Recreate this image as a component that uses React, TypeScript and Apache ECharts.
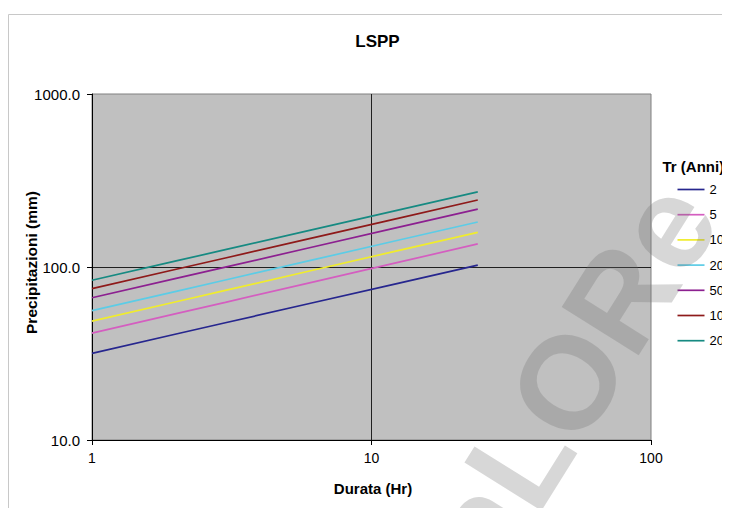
import React, { useEffect, useRef } from "react";
import * as echarts from "echarts";

const durations = [1, 2, 3, 6, 12, 24];
const returnPeriods = ["2", "5", "10", "20", "50", "100", "200"];
const h2 = [31.7, 41.0, 47.6, 61.5, 79.4, 102.6];
const h5 = [41.5, 53.8, 62.5, 81.0, 104.9, 135.9];
const h10 = [48.7, 63.0, 73.3, 94.8, 122.7, 158.7];
const h20 = [55.9, 72.3, 84.1, 108.8, 140.8, 182.0];
const h50 = [66.4, 85.9, 99.8, 129.2, 167.1, 216.0];
const h100 = [75.0, 97.0, 112.7, 145.8, 188.6, 243.8];
const h200 = [83.8, 108.4, 125.9, 162.7, 210.4, 272.0];
const seriesValues = [h2, h5, h10, h20, h50, h100, h200];
const colors = ["#26268e", "#d45ec0", "#f0ec2c", "#5ccce6", "#8c2090", "#8e1a1a", "#168a82"];

const FONT = "Liberation Sans, Arial, sans-serif";

export default function App() {
  const ref = useRef<HTMLDivElement>(null);
  useEffect(() => {
    if (!ref.current) return;
    const chart = echarts.init(ref.current, undefined, { renderer: "svg" });
    const series = returnPeriods.map((name, i) => ({
      name,
      type: "line",
      data: durations.map((d, j) => [d, seriesValues[i][j]]),
      symbol: "none",
      showSymbol: false,
      lineStyle: { color: colors[i], width: 1.7 },
      itemStyle: { color: colors[i] },
      z: 3,
    }));
    chart.setOption({
      animation: false,
      backgroundColor: "#ffffff",
      textStyle: { fontFamily: FONT },
      grid: {
        left: 84,
        right: 79,
        top: 86,
        bottom: 76,
        containLabel: false,
        outerBoundsMode: "none",
        show: true,
        backgroundColor: "#c0c0c0",
        borderColor: "#808080",
        borderWidth: 1,
      },
      xAxis: {
        type: "log",
        logBase: 10,
        min: 1,
        max: 100,
        axisLine: { show: true, lineStyle: { color: "#000", width: 1 } },
        axisTick: { show: true, length: 5, lineStyle: { color: "#000" } },
        minorTick: { show: false },
        axisLabel: { margin: 11, color: "#000", fontSize: 14, fontFamily: FONT, formatter: (v: number) => String(Math.round(v)) },
        splitLine: { show: true, showMinLine: false, showMaxLine: false, lineStyle: { color: "#202020", width: 1 } },
      },
      yAxis: {
        type: "log",
        logBase: 10,
        min: 10,
        max: 1000,
        axisLine: { show: true, lineStyle: { color: "#000", width: 1 } },
        axisTick: { show: true, length: 5, lineStyle: { color: "#000" } },
        minorTick: { show: false },
        axisLabel: { margin: 12, color: "#000", fontSize: 15, fontFamily: FONT, formatter: (v: number) => Number(v).toFixed(1) },
        splitLine: { show: true, showMinLine: false, showMaxLine: false, lineStyle: { color: "#202020", width: 1 } },
      },
      legend: {
        orient: "vertical",
        left: 669.5,
        top: 175,
        padding: 0,
        itemWidth: 27,
        itemHeight: 14,
        itemGap: 12.2,
        icon: "path://M0,0 L27,0 L27,1.7 L0,1.7 Z",
        symbolKeepAspect: true,
        textStyle: { color: "#000", fontSize: 13, fontFamily: FONT },
        data: returnPeriods,
      },
      graphic: [
        {
          type: "rect",
          shape: { x: 0.5, y: 6.5, width: 900, height: 700 },
          style: { fill: "none", stroke: "#c8c8c8", lineWidth: 1 },
          z: -10,
          silent: true,
        },
        {
          type: "text",
          x: 369.5,
          y: 33.7,
          style: { text: "LSPP", fontSize: 17, fontWeight: "bold", fontFamily: FONT, fill: "#000", textAlign: "center", textVerticalAlign: "middle" },
        },
        {
          type: "text",
          x: 365,
          y: 480,
          style: { text: "Durata (Hr)", fontSize: 15, fontWeight: "bold", fontFamily: FONT, fill: "#000", textAlign: "center", textVerticalAlign: "middle" },
        },
        {
          type: "text",
          x: 23.7,
          y: 254.5,
          rotation: Math.PI / 2,
          style: { text: "Precipitazioni (mm)", fontSize: 15.5, fontWeight: "bold", fontFamily: FONT, fill: "#000", textAlign: "center", textVerticalAlign: "middle" },
        },
        {
          type: "text",
          x: 654.5,
          y: 158.7,
          style: { text: "Tr (Anni)", fontSize: 15, fontWeight: "bold", fontFamily: FONT, fill: "#000", textAlign: "left", textVerticalAlign: "middle" },
        },
        {
          type: "text",
          x: 564,
          y: 368,
          rotation: (58 * Math.PI) / 180,
          z: 100,
          silent: true,
          style: { text: "aLORe", fontSize: 132, fontWeight: "bold", fontFamily: FONT, fill: "rgba(112,112,112,0.28)", textAlign: "center", textVerticalAlign: "middle" },
        },
      ],
      series,
    });
    return () => chart.dispose();
  }, []);
  return <div ref={ref} style={{ width: 722, height: 508, marginBottom: -8 }} />;
}
